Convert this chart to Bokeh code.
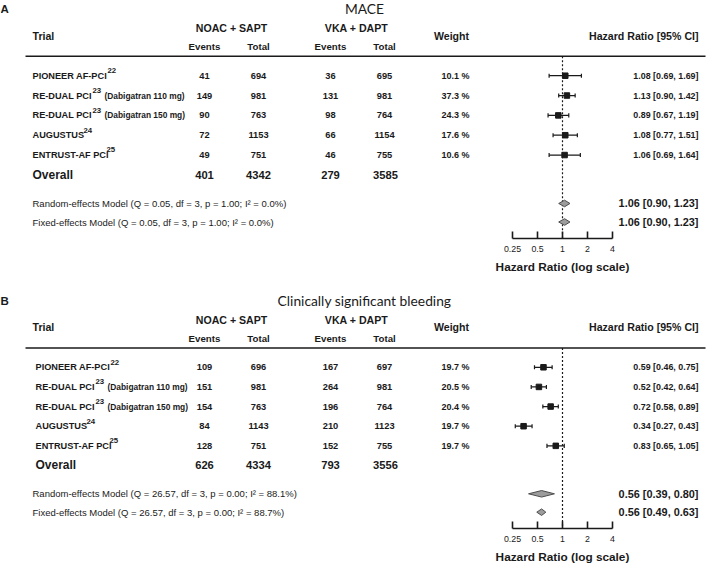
from bokeh.plotting import figure
from bokeh.models import Range1d, LogScale, LogAxis, FixedTicker, ColumnDataSource, Title
from bokeh.layouts import column
from bokeh.embed import file_html
from bokeh.resources import INLINE
from bokeh.core.properties import value

# ---------------- data ----------------
trial_names = ["PIONEER AF-PCI", "RE-DUAL PCI", "RE-DUAL PCI", "AUGUSTUS", "ENTRUST-AF PCI"]
trial_refs = ["22", "23", "23", "24", "25"]
trial_notes = ["", "(Dabigatran 110 mg)", "(Dabigatran 150 mg)", "", ""]

mace_noac_events = [41, 149, 90, 72, 49]
mace_noac_total = [694, 981, 763, 1153, 751]
mace_vka_events = [36, 131, 98, 66, 46]
mace_vka_total = [695, 981, 764, 1154, 755]
mace_weight = [10.1, 37.3, 24.3, 17.6, 10.6]
mace_hr = [1.08, 1.13, 0.89, 1.08, 1.06]
mace_lo = [0.69, 0.90, 0.67, 0.77, 0.69]
mace_hi = [1.69, 1.42, 1.19, 1.51, 1.64]
mace_overall = [401, 4342, 279, 3585]
mace_re = [1.06, 0.90, 1.23]
mace_fe = [1.06, 0.90, 1.23]
mace_re_label = "Random-effects Model (Q = 0.05, df = 3, p = 1.00; I\u00b2 = 0.0%)"
mace_fe_label = "Fixed-effects Model (Q = 0.05, df = 3, p = 1.00; I\u00b2 = 0.0%)"

bleed_noac_events = [109, 151, 154, 84, 128]
bleed_noac_total = [696, 981, 763, 1143, 751]
bleed_vka_events = [167, 264, 196, 210, 152]
bleed_vka_total = [697, 981, 764, 1123, 755]
bleed_weight = [19.7, 20.5, 20.4, 19.7, 19.7]
bleed_hr = [0.59, 0.52, 0.72, 0.34, 0.83]
bleed_lo = [0.46, 0.42, 0.58, 0.27, 0.65]
bleed_hi = [0.75, 0.64, 0.89, 0.43, 1.05]
bleed_overall = [626, 4334, 793, 3556]
bleed_re = [0.56, 0.39, 0.80]
bleed_fe = [0.56, 0.49, 0.63]
bleed_re_label = "Random-effects Model (Q = 26.57, df = 3, p = 0.00; I\u00b2 = 88.1%)"
bleed_fe_label = "Fixed-effects Model (Q = 26.57, df = 3, p = 0.00; I\u00b2 = 88.7%)"

hr_ticks = [0.25, 0.5, 1, 2, 4]
hr_tick_labels = ["0.25", "0.5", "1", "2", "4"]
axis_title = "Hazard Ratio (log scale)"

# ---------------- layout helpers ----------------
W = 709
FONT = "Liberation Sans"
INK = "#1a1a1a"
X_ONE = 562.0        # horizontal layout position of HR = 1
PER_DOUBLING = 25.0  # layout units per doubling of HR


def fs(v):
    return f"{v:.2f}px"


def put(p, xs, ys, texts, size, bold=True, align="left", font=FONT, color=INK):
    src = ColumnDataSource(dict(x=list(xs), y=list(ys), t=list(texts)))
    p.text(x="x", y="y", text="t", source=src, text_font=value(font),
           text_font_size=fs(size), text_font_style="bold" if bold else "normal",
           text_align=align, text_baseline="middle", text_color=color)


def fmt_ci(e, l, h):
    return f"{e:.2f} [{l:.2f}, {h:.2f}]"


def make_panel(letter, title, noac_ev, noac_tot, vka_ev, vka_tot, weight, hr, lo, hi,
               overall, re, fe, re_label, fe_label, top, height, name_x):
    hr_range = Range1d(2 ** ((0 - X_ONE) / PER_DOUBLING), 2 ** ((W - X_ONE) / PER_DOUBLING))
    p = figure(width=W, height=height, title=None,
               x_range=Range1d(0, W), y_range=Range1d(231, top),
               extra_x_ranges={"hr": hr_range}, extra_x_scales={"hr": LogScale()},
               x_axis_location=None, y_axis_location=None,
               toolbar_location=None, output_backend="svg", min_border=0,
               outline_line_color=None, background_fill_color="white",
               border_fill_color="white")
    p.xgrid.visible = False
    p.ygrid.visible = False

    rows_y = [73 + i * 19.25 for i in range(len(hr))]
    y_overall, y_re, y_fe = 169, 197, 215

    # panel letter + title
    put(p, [0], [8], [letter], 11.5)
    put(p, [364], [8], [title], 13.8, bold=False, align="center", font="Lato")

    # header
    put(p, [32], [34], ["Trial"], 10.6)
    put(p, [231, 356], [27, 27], ["NOAC + SAPT", "VKA + DAPT"], 10.6, align="center")
    put(p, [204, 258, 330, 384], [45] * 4, ["Events", "Total", "Events", "Total"], 9.7, align="center")
    put(p, [451], [34], ["Weight"], 10.6, align="center")
    put(p, [698], [34], ["Hazard Ratio [95% CI]"], 10.6, align="right")
    p.segment(x0=[25], x1=[705], y0=[54], y1=[54], line_color=INK, line_width=1.5)

    # study rows
    put(p, [name_x] * len(trial_names), rows_y, trial_names, 9.2)
    sup_dx = [75, 60, 60, 51, 74]
    put(p, [name_x + d for d in sup_dx], [y - 5 for y in rows_y], trial_refs, 7.8)
    note_idx = [i for i, n in enumerate(trial_notes) if n]
    put(p, [name_x + 72] * len(note_idx), [rows_y[i] for i in note_idx],
        [trial_notes[i] for i in note_idx], 8.4)
    put(p, [204] * 5, rows_y, [str(v) for v in noac_ev], 9.3, align="center")
    put(p, [258] * 5, rows_y, [str(v) for v in noac_tot], 9.3, align="center")
    put(p, [330] * 5, rows_y, [str(v) for v in vka_ev], 9.3, align="center")
    put(p, [384] * 5, rows_y, [str(v) for v in vka_tot], 9.3, align="center")
    put(p, [455] * 5, rows_y, [f"{w:.1f} %" for w in weight], 9.0, align="center")
    put(p, [698] * 5, rows_y, [fmt_ci(e, l, h) for e, l, h in zip(hr, lo, hi)], 8.9, align="right")

    # overall row
    put(p, [name_x], [y_overall], ["Overall"], 12.0)
    put(p, [204, 258, 330, 385], [y_overall] * 4, [str(v) for v in overall], 11.2, align="center")

    # model rows
    put(p, [32, 32], [y_re, y_fe], [re_label, fe_label], 9.5, bold=False)
    put(p, [698, 698], [y_re, y_fe], [fmt_ci(*re), fmt_ci(*fe)], 10.9, align="right")

    # reference line at HR = 1
    p.segment(x0=[1], x1=[1], y0=[54], y1=[231], x_range_name="hr",
              line_color=INK, line_width=1.2, line_dash="2 2")

    # CIs, caps, squares
    p.segment(x0=lo, x1=hi, y0=rows_y, y1=rows_y, x_range_name="hr", line_color=INK, line_width=1.2)
    p.segment(x0=lo, x1=lo, y0=[y - 2 for y in rows_y], y1=[y + 2 for y in rows_y],
              x_range_name="hr", line_color=INK, line_width=1.2)
    p.segment(x0=hi, x1=hi, y0=[y - 2 for y in rows_y], y1=[y + 2 for y in rows_y],
              x_range_name="hr", line_color=INK, line_width=1.2)
    p.scatter(x=hr, y=rows_y, marker="square", size=5.5, x_range_name="hr",
              fill_color=INK, line_color=INK)

    # summary diamonds
    dxs, dys = [], []
    for (e, l, h), y in ((re, y_re), (fe, y_fe)):
        dxs.append([l, e, h, e])
        dys.append([y, y - 3.2, y, y + 3.2])
    p.patches(xs=dxs, ys=dys, x_range_name="hr", fill_color="#9c9c9c",
              line_color="#4d4d4d", line_width=1)

    ax = LogAxis(x_range_name="hr", ticker=FixedTicker(ticks=hr_ticks), bounds=(0.25, 4),
                 major_tick_in=7, major_tick_out=0, minor_tick_in=0, minor_tick_out=0,
                 axis_line_width=1.6, axis_line_color=INK,
                 major_tick_line_width=1.6, major_tick_line_color=INK,
                 major_label_standoff=7, major_label_text_font=FONT,
                 major_label_text_font_size=fs(8.8), major_label_text_color=INK)
    ax.major_label_overrides = {t: lab for t, lab in zip(hr_ticks, hr_tick_labels)}
    p.add_layout(ax, "below")

    title_w = 11.336 * 11.8  # approx text width of the bold axis title
    t = Title(text=axis_title, align="left", offset=X_ONE - title_w / 2, standoff=7,
              text_font=FONT, text_font_size=fs(11.8), text_font_style="bold",
              text_color=INK)
    p.add_layout(t, "below")
    return p


pa = make_panel("A", "MACE", mace_noac_events, mace_noac_total, mace_vka_events, mace_vka_total,
                mace_weight, mace_hr, mace_lo, mace_hi, mace_overall, mace_re, mace_fe,
                mace_re_label, mace_fe_label, top=0, height=277, name_x=32)
pb = make_panel("B", "Clinically significant bleeding", bleed_noac_events, bleed_noac_total,
                bleed_vka_events, bleed_vka_total, bleed_weight, bleed_hr, bleed_lo, bleed_hi,
                bleed_overall, bleed_re, bleed_fe, bleed_re_label, bleed_fe_label,
                top=-15, height=290, name_x=35)

layout = column(pa, pb, spacing=0)
open("out.html", "w").write(file_html(layout, INLINE))
